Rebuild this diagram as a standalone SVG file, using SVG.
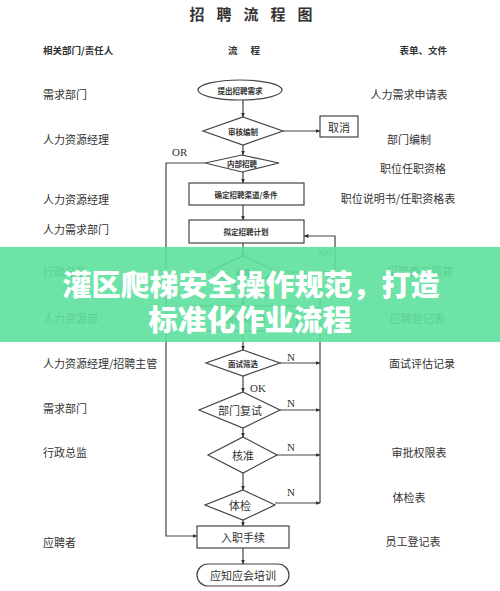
<svg xmlns="http://www.w3.org/2000/svg" width="500" height="591" viewBox="0 0 500 591">
<defs>
<marker id="ah" viewBox="0 0 10 10" refX="9" refY="5" markerWidth="5" markerHeight="5" orient="auto-start-reverse" markerUnits="userSpaceOnUse">
<path d="M0,1 L10,5 L0,9 z" fill="#333"/>
</marker>
<style>
.bg{fill:#fff}
.sh{fill:#fff;stroke:#444;stroke-width:1.2}
.ln{fill:none;stroke:#444;stroke-width:1.2}
.t{font-family:"Noto Sans CJK SC","Noto Sans",sans-serif;fill:#333}
.lt{font-size:11px;text-anchor:start}
.rt{font-size:11px;text-anchor:middle}
.sm{font-size:7.5px;font-weight:700;text-anchor:middle;dominant-baseline:central}
.md{font-size:11px;text-anchor:middle;dominant-baseline:central}
.hd{font-size:9.5px;font-weight:700}
.ser{font-family:"Liberation Serif","DejaVu Serif",serif;fill:#333;font-size:11px}
.ban{font-family:"Noto Sans CJK SC",sans-serif;font-weight:900;font-size:29px;fill:#fff;text-anchor:middle;dominant-baseline:central}
</style>
</defs>
<rect class="bg" x="0" y="0" width="500" height="591"/>

<g id="title">
<text class="t" x="257" y="13" font-size="15" font-weight="700" text-anchor="middle" dominant-baseline="central" letter-spacing="12">招聘流程图</text>
</g>
<g id="headers">
<text class="t hd" x="43" y="54">相关部门/责任人</text>
<text class="t hd" x="244" y="54" text-anchor="middle" xml:space="preserve">流      程</text>
<text class="t hd" x="447" y="54" text-anchor="end">表单、文件</text>
</g>

<g id="left-labels">
<text class="t lt" x="43" y="99">需求部门</text>
<text class="t lt" x="43" y="144">人力资源经理</text>
<text class="t lt" x="43" y="204">人力资源经理</text>
<text class="t lt" x="43" y="234">人力需求部门</text>
<text class="t lt" x="43" y="276">行政总监</text>
<text class="t lt" x="43" y="323">人力资源部</text>
<text class="t lt" x="43" y="368">人力资源经理/招聘主管</text>
<text class="t lt" x="43" y="413">需求部门</text>
<text class="t lt" x="43" y="457">行政总监</text>
<text class="t lt" x="43" y="547">应聘者</text>
</g>

<g id="right-labels">
<text class="t rt" x="409" y="99">人力需求申请表</text>
<text class="t rt" x="409" y="144">部门编制</text>
<text class="t rt" x="413" y="173">职位任职资格</text>
<text class="t rt" x="398" y="203">职位说明书/任职资格表</text>
<text class="t rt" x="420" y="276">招聘费用预算</text>
<text class="t rt" x="417" y="323">应聘登记表</text>
<text class="t rt" x="422" y="368">面试评估记录</text>
<text class="t rt" x="419" y="457">审批权限表</text>
<text class="t rt" x="409" y="502">体检表</text>
<text class="t rt" x="413" y="546">员工登记表</text>
</g>

<g id="connectors">
<line class="ln" x1="243" y1="100" x2="243" y2="117" marker-end="url(#ah)"/>
<line class="ln" x1="243" y1="145" x2="243" y2="155" marker-end="url(#ah)"/>
<line class="ln" x1="283" y1="131" x2="320" y2="131" marker-end="url(#ah)"/>
<line class="ln" x1="243" y1="172" x2="243" y2="183" marker-end="url(#ah)"/>
<line class="ln" x1="243" y1="205" x2="243" y2="220" marker-end="url(#ah)"/>
<line class="ln" x1="243" y1="243" x2="243" y2="256" marker-end="url(#ah)"/>
<line class="ln" x1="243" y1="288" x2="243" y2="306" marker-end="url(#ah)"/>
<line class="ln" x1="243" y1="331" x2="243" y2="350" marker-end="url(#ah)"/>
<line class="ln" x1="243" y1="376" x2="243" y2="392" marker-end="url(#ah)"/>
<line class="ln" x1="243" y1="428" x2="243" y2="437" marker-end="url(#ah)"/>
<line class="ln" x1="243" y1="473" x2="243" y2="490" marker-end="url(#ah)"/>
<line class="ln" x1="243" y1="520" x2="243" y2="526" marker-end="url(#ah)"/>
<line class="ln" x1="243" y1="548" x2="243" y2="564" marker-end="url(#ah)"/>
<polyline class="ln" points="205,163 166,163 166,536 197,536" marker-end="url(#ah)"/>
<polyline class="ln" points="278,272 335,272 335,236 304,236" marker-end="url(#ah)"/>
<line class="ln" x1="320" y1="272" x2="320" y2="503"/>
<line class="ln" x1="280" y1="363" x2="320" y2="363" marker-end="url(#ah)"/>
<line class="ln" x1="280" y1="410" x2="320" y2="410" marker-end="url(#ah)"/>
<line class="ln" x1="277" y1="455" x2="320" y2="455" marker-end="url(#ah)"/>
<line class="ln" x1="275" y1="503" x2="320" y2="503" marker-end="url(#ah)"/>
<text class="ser" x="172" y="156" font-size="8">OR</text>
<text class="ser" x="318" y="257" font-size="10">N0</text>
<text class="ser" x="252" y="296">OK</text>
<text class="ser" x="287" y="361">N</text>
<text class="ser" x="250" y="392">OK</text>
<text class="ser" x="287" y="407">N</text>
<text class="ser" x="287" y="451">N</text>
<text class="ser" x="287" y="496">N</text>
</g>

<g id="n-start"><ellipse class="sh" cx="240" cy="90" rx="42" ry="10"/><text class="t sm" x="240" y="90">提出招聘需求</text></g>
<g id="n-audit"><polygon class="sh" points="243,117 283,131 243,145 203,131"/><text class="t sm" x="243" y="131">审核编制</text></g>
<g id="n-cancel"><rect class="sh" x="320" y="116" width="38" height="21"/><text class="t md" x="339" y="126.5" font-size="12">取消</text></g>
<g id="n-internal"><polygon class="sh" points="242,155 279,163 242,172 205,163"/><text class="t sm" x="242" y="163.5">内部招聘</text></g>
<g id="n-channel"><rect class="sh" x="189" y="183" width="115" height="22"/><text class="t sm" x="246" y="194">确定招聘渠道/条件</text></g>
<g id="n-plan"><rect class="sh" x="189" y="220" width="115" height="23"/><text class="t sm" x="246" y="231.5">拟定招聘计划</text></g>
<g id="n-approve1"><polygon class="sh" points="243,256 278,272 243,288 208,272"/><text class="t sm" x="243" y="272">核准</text></g>
<g id="n-publish"><rect class="sh" x="189" y="306" width="108" height="25"/><text class="t sm" x="243" y="318.5">发布招聘信息</text></g>
<g id="n-screen"><polygon class="sh" points="243,350 280,363 243,376 206,363"/><text class="t sm" x="243" y="363">面试筛选</text></g>
<g id="n-second"><polygon class="sh" points="243,392 280,410 243,428 199,410"/><text class="t md" x="240" y="410">部门复试</text></g>
<g id="n-approve2"><polygon class="sh" points="243,437 277,455 243,473 208,455"/><text class="t md" x="243" y="455">核准</text></g>
<g id="n-medical"><polygon class="sh" points="243,490 275,505 243,520 205,505"/><text class="t md" x="240" y="505">体检</text></g>
<g id="n-onboard"><rect class="sh" x="197" y="526" width="92" height="22"/><text class="t md" x="243" y="537" font-size="12">入职手续</text></g>
<g id="n-train"><rect class="sh" x="197" y="564" width="92" height="22" rx="11" ry="11"/><text class="t md" x="243" y="575">应知应会培训</text></g>

<g id="banner">
<rect x="0" y="247" width="500" height="95" fill="#5ee09d" opacity="0.9"/>
<text class="ban" x="251" y="283">灌区爬梯安全操作规范，打造</text>
<text class="ban" x="250" y="318">标准化作业流程</text>
</g>
</svg>
